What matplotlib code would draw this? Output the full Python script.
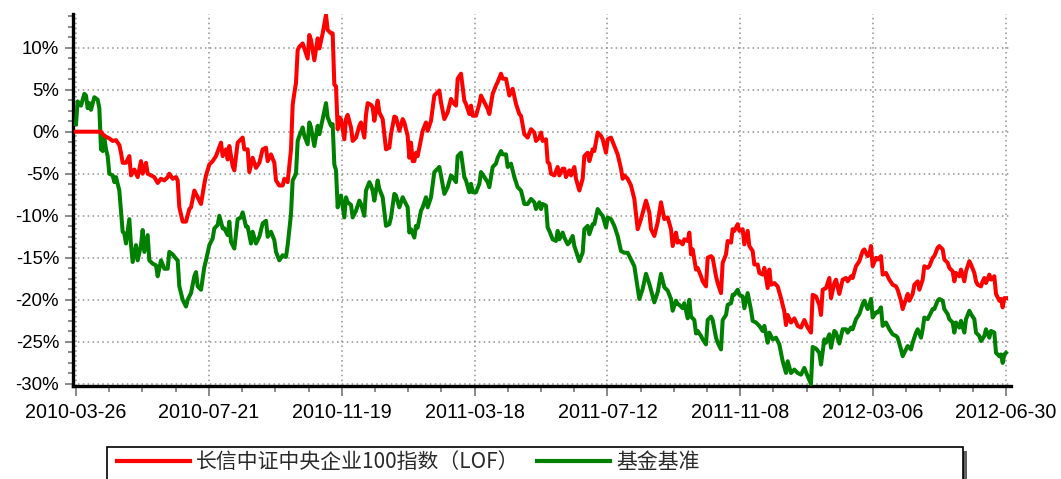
import matplotlib
matplotlib.use("Agg")
import matplotlib.pyplot as plt
import matplotlib.patches as mpatches
from matplotlib.ticker import FixedLocator, FuncFormatter
import numpy as np

plt.rcParams['axes.unicode_minus'] = False

# ---------------- data ----------------
date_labels = ["2010-03-26", "2010-07-21", "2010-11-19", "2011-03-18",
               "2011-07-12", "2011-11-08", "2012-03-06", "2012-06-30"]
series_names = ["长信中证中央企业100指数（LOF）", "基金基准"]

red_day = [
    0, 15, 16, 18, 20, 22, 24, 26, 27, 28,
    30, 32, 33, 35, 37, 39, 40, 42, 43, 45,
    47, 49, 51, 53, 55, 56, 58, 60, 61, 62,
    64, 66, 68, 69, 71, 73, 75, 77, 78, 80,
    82, 84, 87, 88, 90, 91, 92, 94, 95, 97,
    100, 101, 103, 104, 106, 108, 110, 112, 114, 115,
    117, 119, 120, 122, 124, 125, 127, 129, 130, 131,
    132, 133, 134, 136, 137, 139, 140, 141, 143, 145,
    146, 148, 150, 151, 153, 154, 155, 156, 157, 158,
    159, 161, 162, 163, 165, 166, 168, 170, 171, 173,
    174, 175, 177, 178, 179, 181, 182, 184, 186, 188,
    189, 191, 192, 194, 196, 197, 199, 200, 201, 202,
    203, 204, 205, 207, 208, 210, 211, 213, 215, 216,
    218, 219, 221, 223, 225, 226, 228, 229, 231, 233,
    234, 236, 237, 238, 240, 242, 243, 245, 247, 248,
    250, 252, 253, 255, 256, 258, 260, 262, 264, 266,
    267, 269, 271, 273, 275, 276, 278, 279, 280, 282,
    283, 284, 285, 287, 289, 290, 292, 293, 294, 296,
    297, 299, 300, 302, 304, 305, 307, 308, 310, 311,
    313, 315, 316, 318, 319, 321, 323, 325, 327, 328,
    329, 331, 333, 335, 337, 339, 342, 344, 345, 347,
    349, 351, 353, 355, 357, 358, 360, 361, 362, 364,
    365, 367, 368, 369, 370, 372, 373, 375, 376, 378,
    379, 381, 382, 384, 385, 387, 388, 390, 391, 393,
    394, 395, 397, 398, 400, 401, 403, 404, 406, 407,
    409, 410, 412, 413, 415, 416, 417, 419, 421, 423,
    425, 426, 427, 429, 431, 433, 435, 437, 439, 441,
    442, 444, 446, 447, 448, 450, 452, 453, 455, 456,
    458, 460, 462, 463, 465, 466, 468, 470, 472, 473,
    475, 476, 477, 478, 480, 481, 483, 484, 486, 488,
    490, 492, 493, 495, 496, 497, 499, 500, 502, 503,
    505, 506, 508, 509, 511, 512, 514, 515, 517, 518,
    520, 521, 523, 524, 526, 527, 528, 530, 531, 533,
    534, 536, 537, 539, 540, 541, 543, 544, 545, 546,
    548, 549, 551, 552, 554, 555, 556, 557, 558,
]
red_pct = [
    0.0, 0.0, -0.3, -0.6, -0.8, -1.1, -1.0, -1.6, -2.5, -3.7,
    -3.7, -2.9, -5.2, -4.5, -5.4, -3.5, -5.0, -3.7, -5.0, -5.2,
    -5.4, -6.1, -5.6, -5.8, -5.4, -5.0, -5.6, -5.4, -5.8, -9.0,
    -10.7, -10.7, -9.2, -9.0, -7.0, -7.8, -8.6, -6.2, -5.2, -3.9,
    -3.5, -2.9, -1.3, -2.9, -2.1, -3.3, -1.7, -4.1, -4.6, -1.3,
    -0.7, -2.1, -2.1, -4.8, -3.1, -4.3, -3.7, -2.1, -1.9, -3.5,
    -2.7, -3.7, -5.8, -6.4, -6.4, -5.6, -6.0, -2.1, 3.2, 4.6,
    5.8, 9.7, 10.1, 10.5, 9.9, 8.7, 11.5, 10.9, 8.5, 11.1,
    9.9, 11.7, 13.9, 12.1, 11.7, 11.7, 5.6, 5.4, 0.3, 1.7,
    1.5, -0.9, 1.5, 2.0, 0.5, -1.1, -0.7, 0.7, 1.1, -0.7,
    2.0, 3.4, 3.2, 2.9, 1.3, 3.7, 2.3, 1.5, -2.1, -1.9,
    -0.3, 1.8, 1.7, 0.1, 1.5, 1.1, -0.5, -3.1, -1.3, -3.5,
    -3.5, -2.5, -2.9, -0.9, 0.1, 1.1, 0.1, 1.3, 4.3, 4.5,
    4.9, 3.5, 1.5, 2.3, 3.9, 3.5, 3.1, 6.3, 6.9, 3.7,
    3.3, 2.1, 3.1, 1.9, 1.9, 3.3, 4.3, 3.5, 2.7, 2.1,
    4.5, 5.5, 5.9, 6.9, 6.3, 6.3, 4.3, 5.1, 3.3, 2.1,
    1.9, -0.3, -0.7, 0.3, -0.1, -1.1, -0.7, -0.1, -1.1, -0.9,
    -3.6, -3.8, -5.0, -5.2, -4.2, -5.2, -4.4, -4.4, -5.4, -4.6,
    -5.2, -4.2, -5.6, -7.0, -5.6, -2.9, -2.5, -3.5, -2.1, -2.3,
    -0.1, -0.5, -0.9, -2.5, -0.9, -0.7, -1.7, -2.7, -4.4, -5.6,
    -5.2, -5.6, -6.4, -8.0, -11.6, -10.4, -8.2, -9.6, -11.6, -12.4,
    -10.8, -8.4, -10.4, -10.2, -11.6, -13.6, -12.0, -13.2, -13.0, -13.4,
    -12.8, -13.0, -12.0, -14.6, -14.0, -16.4, -16.2, -17.2, -17.8, -18.4,
    -15.0, -14.8, -15.0, -17.2, -18.0, -19.2, -15.6, -14.6, -13.0, -13.2,
    -11.6, -11.8, -11.0, -11.8, -11.6, -13.4, -11.8, -13.6, -14.2, -15.8,
    -15.8, -16.8, -17.0, -16.2, -18.6, -16.4, -18.2, -18.0, -18.4, -19.8,
    -21.4, -23.0, -21.8, -22.7, -22.2, -23.1, -23.3, -22.4, -23.3, -23.9,
    -19.4, -19.6, -20.6, -21.8, -18.8, -18.6, -17.4, -19.8, -18.0, -17.6,
    -19.3, -17.6, -17.4, -17.8, -17.2, -17.4, -16.0, -15.4, -14.2, -14.0,
    -14.8, -14.6, -13.6, -16.0, -15.0, -15.2, -14.8, -17.0, -16.8, -17.6,
    -18.2, -18.4, -18.8, -20.1, -21.1, -20.5, -19.3, -20.1, -19.3, -18.2,
    -17.8, -18.8, -17.6, -16.0, -16.2, -16.0, -15.0, -14.8, -13.8, -13.6,
    -14.0, -15.2, -15.6, -16.2, -16.6, -17.8, -16.8, -17.2, -16.4, -17.8,
    -16.6, -15.4, -15.8, -16.8, -17.8, -18.2, -18.4, -17.8, -17.4, -18.0,
    -17.0, -17.6, -17.2, -19.3, -20.1, -19.9, -20.9, -19.8, -19.8,
]

green_day = [
    0, 1, 2, 3, 5, 6, 7, 8, 9, 11,
    13, 14, 15, 16, 17, 18, 19, 20, 22, 23,
    24, 26, 27, 28, 29, 30, 32, 33, 34, 36,
    37, 39, 40, 41, 43, 44, 46, 48, 49, 51,
    53, 55, 56, 58, 60, 61, 62, 64, 66, 67,
    69, 71, 72, 73, 75, 77, 78, 80, 82, 83,
    85, 86, 88, 89, 91, 92, 93, 95, 97, 99,
    100, 102, 103, 105, 106, 108, 110, 112, 114, 115,
    117, 119, 120, 122, 124, 126, 127, 129, 130, 132,
    133, 134, 136, 137, 139, 140, 141, 143, 145, 146,
    148, 150, 151, 153, 154, 155, 156, 157, 158, 159,
    161, 162, 163, 165, 166, 168, 170, 171, 173, 174,
    176, 177, 178, 179, 181, 182, 184, 186, 188, 189,
    191, 192, 194, 196, 197, 199, 200, 201, 203, 204,
    205, 207, 208, 210, 211, 213, 215, 216, 218, 219,
    221, 223, 225, 226, 228, 229, 231, 233, 234, 236,
    237, 238, 240, 242, 243, 245, 247, 248, 250, 252,
    253, 255, 256, 258, 259, 261, 263, 265, 267, 269,
    271, 273, 275, 276, 278, 279, 280, 282, 283, 284,
    286, 288, 289, 290, 292, 293, 295, 296, 298, 299,
    301, 302, 304, 305, 307, 308, 310, 311, 313, 315,
    316, 318, 319, 321, 323, 325, 327, 329, 331, 333,
    335, 338, 340, 342, 344, 347, 349, 351, 353, 355,
    357, 358, 360, 361, 362, 364, 365, 367, 368, 369,
    371, 372, 373, 375, 376, 378, 379, 381, 382, 384,
    385, 387, 388, 390, 391, 393, 394, 395, 397, 398,
    400, 401, 403, 405, 406, 408, 410, 412, 413, 415,
    416, 418, 420, 422, 424, 426, 427, 429, 431, 433,
    435, 437, 439, 441, 442, 444, 446, 447, 449, 450,
    452, 453, 455, 456, 458, 460, 462, 463, 465, 466,
    468, 470, 472, 473, 475, 476, 477, 478, 480, 481,
    483, 484, 486, 488, 490, 492, 493, 495, 496, 497,
    499, 501, 502, 504, 505, 507, 508, 509, 511, 512,
    514, 515, 517, 518, 520, 521, 523, 524, 526, 527,
    528, 530, 531, 533, 534, 536, 537, 539, 540, 542,
    543, 545, 546, 548, 549, 551, 552, 554, 555, 556,
    557, 558,
]
green_pct = [
    0.9, 3.6, 3.4, 3.1, 4.5, 4.3, 2.8, 3.4, 2.6, 4.1,
    3.8, 2.8, -2.1, -2.3, -0.7, -2.1, -2.9, -5.0, -5.2, -6.0,
    -5.4, -7.0, -9.4, -11.9, -12.1, -13.3, -10.4, -13.5, -15.5, -13.5,
    -15.3, -13.5, -11.7, -14.3, -12.3, -15.3, -15.7, -15.9, -17.2, -15.3,
    -16.3, -16.3, -14.3, -14.6, -15.1, -15.3, -18.4, -20.0, -20.8, -20.0,
    -19.2, -17.2, -16.7, -18.4, -18.8, -16.1, -15.3, -13.5, -12.7, -11.5,
    -11.1, -10.0, -11.5, -11.5, -12.3, -10.7, -13.1, -13.9, -10.4, -10.2,
    -9.6, -11.3, -11.3, -13.3, -11.9, -13.3, -12.5, -10.9, -10.6, -12.5,
    -11.9, -12.9, -14.3, -15.3, -14.7, -14.9, -13.5, -9.8, -5.8, -5.0,
    -1.1, -0.5, 0.5, -0.5, -1.5, 1.1, 0.5, -1.7, 0.7, -0.3,
    1.5, 3.4, 1.7, 0.7, 0.9, -3.9, -4.6, -9.0, -8.0, -7.6,
    -10.2, -7.8, -8.4, -8.7, -10.2, -9.4, -8.2, -8.6, -10.0, -7.0,
    -6.0, -6.4, -7.0, -8.2, -5.8, -6.8, -7.8, -11.2, -11.0, -10.2,
    -7.4, -7.6, -9.0, -7.8, -8.2, -9.0, -12.0, -11.6, -12.6, -11.2,
    -11.4, -9.4, -9.0, -7.8, -9.0, -7.8, -4.8, -4.6, -4.2, -5.2,
    -7.4, -6.6, -5.2, -5.4, -6.0, -2.9, -2.5, -5.4, -5.8, -7.2,
    -6.2, -7.2, -7.2, -6.2, -4.8, -5.4, -6.0, -6.6, -4.2, -3.8,
    -3.1, -2.3, -2.7, -2.7, -4.2, -3.8, -5.4, -6.6, -7.0, -8.6,
    -8.6, -8.0, -8.4, -9.2, -8.4, -9.2, -8.6, -8.8, -11.4, -11.8,
    -12.8, -13.0, -11.8, -12.8, -12.0, -12.6, -13.4, -13.2, -12.4, -13.6,
    -14.8, -15.4, -14.4, -11.6, -11.2, -12.2, -11.0, -11.0, -9.2, -9.8,
    -10.0, -11.4, -10.2, -10.4, -11.2, -12.4, -14.2, -14.4, -14.4, -15.2,
    -16.0, -19.9, -18.7, -16.9, -18.1, -20.3, -19.1, -16.9, -18.5, -18.9,
    -19.9, -21.3, -20.1, -20.5, -20.6, -21.0, -20.4, -22.2, -20.0, -22.0,
    -22.4, -24.0, -23.7, -24.3, -24.7, -25.3, -22.4, -22.0, -22.4, -24.5,
    -25.1, -25.9, -22.4, -21.8, -20.6, -20.4, -19.4, -19.4, -18.8, -19.4,
    -19.6, -21.0, -19.2, -21.2, -22.5, -22.7, -23.1, -23.7, -23.1, -25.1,
    -23.9, -24.7, -24.5, -25.3, -27.3, -28.7, -27.3, -28.7, -28.3, -28.7,
    -28.9, -28.1, -29.1, -30.0, -25.6, -25.8, -26.3, -27.7, -24.7, -25.1,
    -24.1, -25.7, -23.7, -23.9, -25.2, -23.5, -23.5, -23.9, -23.3, -23.5,
    -22.3, -21.7, -20.5, -20.1, -21.1, -20.7, -19.9, -22.1, -21.5, -21.5,
    -20.9, -23.1, -22.7, -23.5, -24.1, -24.3, -24.5, -25.9, -26.7, -26.3,
    -25.5, -25.9, -25.1, -23.9, -23.5, -24.5, -23.5, -22.1, -22.3, -21.9,
    -21.1, -21.1, -20.1, -19.9, -20.1, -21.1, -21.7, -22.3, -22.7, -23.9,
    -22.7, -23.3, -22.5, -23.9, -22.3, -21.3, -21.7, -22.3, -23.9, -24.3,
    -24.9, -24.3, -23.5, -24.5, -23.7, -23.9, -26.3, -26.7, -26.5, -27.5,
    -26.5, -26.3,
]

# ---------------- figure ----------------
W, H = 1061, 479
fig = plt.figure(figsize=(W / 100, H / 100), dpi=100)
ax = fig.add_axes([73 / W, 1 - 386 / H, (1011 - 73) / W, (386 - 14) / H])

n_r = min(len(red_day), len(red_pct))
n_g = min(len(green_day), len(green_pct))
ax.plot(green_day[:n_g], green_pct[:n_g], color="#008000", lw=2.9,
        solid_joinstyle="round", label=series_names[1], zorder=3)
ax.plot(red_day[:n_r], red_pct[:n_r], color="#FF0000", lw=2.9,
        solid_joinstyle="round", label=series_names[0], zorder=4)

last_day = red_day[-1]
ax.set_xlim(-1.8, last_day + 3)
ax.set_ylim(-30.25, 14.0)

major_x = np.linspace(0, last_day, len(date_labels))
minor_x = np.linspace(0, last_day, (len(date_labels) - 1) * 4 + 1)
ax.xaxis.set_major_locator(FixedLocator(major_x))
ax.xaxis.set_minor_locator(FixedLocator(minor_x))
ax.set_xticklabels(date_labels)

ax.yaxis.set_major_locator(FixedLocator(np.arange(-30, 10.1, 5)))
ax.yaxis.set_minor_locator(FixedLocator(np.arange(-30, 13.8, 1.25)))
ax.yaxis.set_major_formatter(FuncFormatter(lambda v, p: f"{int(round(v))}%"))

for lab in ax.get_xticklabels():
    lab.set_family(["Liberation Sans", "DejaVu Sans"])
    lab.set_fontsize(14.2)
for lab in ax.get_yticklabels():
    lab.set_family(["Liberation Sans", "DejaVu Sans"])
    lab.set_fontsize(13.4)

ax.tick_params(axis="x", which="major", length=7.5, width=1.3, color="#808080",
               pad=5, labelcolor="black")
ax.tick_params(axis="x", which="minor", length=4.0, width=1.3, color="#808080")
ax.tick_params(axis="y", which="major", length=6.0, width=1.3, color="#808080",
               pad=4, labelcolor="black")
ax.tick_params(axis="y", which="minor", length=3.5, width=1.3, color="#808080")

for s in ["top", "right"]:
    ax.spines[s].set_visible(False)
for s in ["left", "bottom"]:
    ax.spines[s].set_linewidth(2.4)
    ax.spines[s].set_color("black")

ax.grid(True, which="major", color="#909090", lw=1.1, linestyle=(0, (1, 2.2)))
ax.set_axisbelow(True)

# ---------------- legend ----------------
shadow = mpatches.Rectangle((111 / W, 0), (967 - 111) / W, 1 - 451 / H,
                            transform=fig.transFigure, facecolor="#606060",
                            edgecolor="none", zorder=1)
box = mpatches.Rectangle((107 / W, -0.05), (963 - 107) / W, 0.05 + 1 - 447 / H,
                         transform=fig.transFigure, facecolor="white",
                         edgecolor="black", lw=1.2, zorder=2)
fig.patches.extend([shadow, box])

handles, labels = ax.get_legend_handles_labels()
order = [1, 0]
leg = fig.legend([handles[i] for i in order], [labels[i] for i in order],
                 loc="center left", bbox_to_anchor=(117 / W, 1 - 462 / H),
                 ncol=2, frameon=False, borderpad=0, borderaxespad=0,
                 handlelength=3.5, handletextpad=0.3, columnspacing=0.85,
                 prop={"family": ["Noto Sans CJK SC", "DejaVu Sans"], "size": 15})
for t in leg.get_texts():
    t.set_color("#2a2a2a")
for lh in leg.get_lines():
    lh.set_linewidth(3.0)
leg.set_zorder(5)

fig.savefig("out.png", dpi=100)
